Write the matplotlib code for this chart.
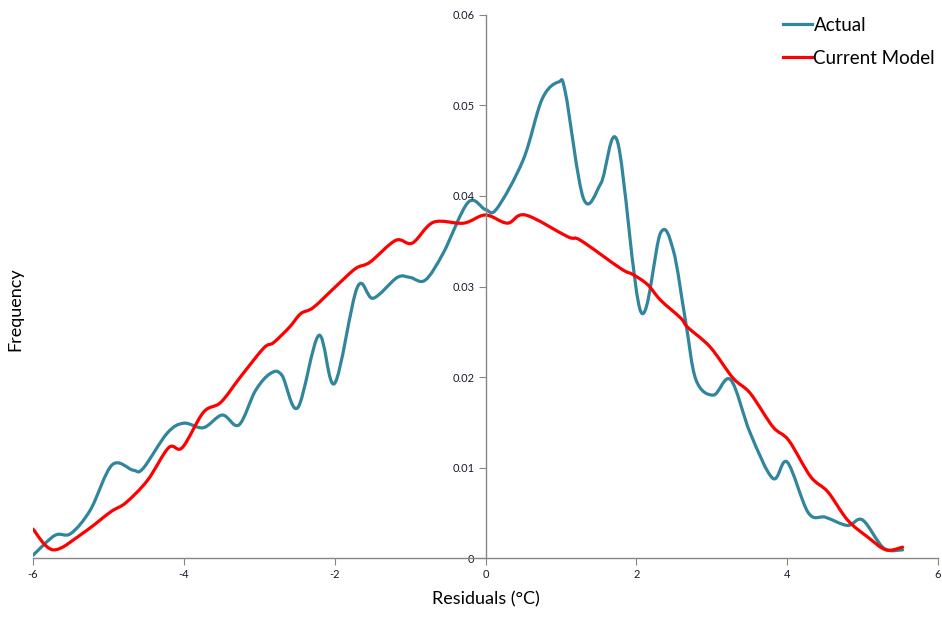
import matplotlib
matplotlib.use("Agg")
import matplotlib.pyplot as plt
from matplotlib.path import Path
from matplotlib.patches import PathPatch
from matplotlib.lines import Line2D

plt.rcParams['font.family'] = ['Lato', 'DejaVu Sans']
plt.rcParams['axes.unicode_minus'] = False

# Residual distributions
actual_x = [-6.0, -5.71, -5.5, -5.24, -4.95, -4.67, -4.54, -4.22, -4.0, -3.74, -3.49, -3.27,
            -3.05, -2.85, -2.7, -2.49, -2.21, -2.0, -1.7, -1.49, -1.17, -1.0, -0.8, -0.56,
            -0.23, 0.0, 0.15, 0.5, 0.75, 0.97, 1.06, 1.3, 1.53, 1.75,
            2.06, 2.32, 2.49, 2.65, 2.79, 3.02, 3.25, 3.51, 3.81, 4.0, 4.28, 4.51, 4.8,
            5.0, 5.28, 5.53]
actual_y = [0.0003, 0.0025, 0.0027, 0.0053, 0.0103, 0.0097, 0.0099, 0.0138, 0.0149, 0.0144,
            0.0158, 0.0147, 0.0185, 0.0204, 0.0202, 0.0166, 0.0246, 0.0193, 0.0299, 0.0287,
            0.0310, 0.0310, 0.0307, 0.0337, 0.0393, 0.0385, 0.0386, 0.0440, 0.0507,
            0.0526, 0.0514, 0.0397, 0.0414, 0.0460, 0.0272, 0.0359, 0.0340,
            0.0263, 0.0197, 0.0180, 0.0197, 0.0138, 0.0088, 0.0106, 0.0050, 0.0045, 0.0036,
            0.0042, 0.0011, 0.0009]

model_x = [-6.0, -5.73, -5.33, -4.97, -4.77, -4.48, -4.2, -4.02, -3.74, -3.51, -3.25, -2.94,
           -2.81, -2.6, -2.45, -2.28, -1.96, -1.72, -1.53, -1.19, -0.97, -0.69, -0.29, 0.0,
           0.29, 0.53, 1.09, 1.26, 1.79, 1.96, 2.15, 2.32, 2.59, 2.68, 2.98, 3.28, 3.51,
           3.81, 4.02, 4.31, 4.54, 4.8, 5.07, 5.31, 5.53]
model_y = [0.0032, 0.0009, 0.0028, 0.0051, 0.0061, 0.0086, 0.0122, 0.0122, 0.0161, 0.0172,
           0.0200, 0.0232, 0.0238, 0.0255, 0.0270, 0.0277, 0.0302, 0.0320, 0.0327, 0.0351,
           0.0348, 0.0371, 0.0370, 0.0379, 0.0370, 0.0379, 0.0355, 0.0351, 0.0320, 0.0313,
           0.0302, 0.0285, 0.0265, 0.0255, 0.0233, 0.0199, 0.0182, 0.0145, 0.0130, 0.0090,
           0.0073, 0.0042, 0.0023, 0.0009, 0.0012]

x_ticks = [-6, -4, -2, 0, 2, 4, 6]
y_ticks = [0, 0.01, 0.02, 0.03, 0.04, 0.05, 0.06]
y_labels = ['0', '0.01', '0.02', '0.03', '0.04', '0.05', '0.06']

teal = '#31859C'
red = '#FF0000'


def smooth_path(xs, ys):
    # excel style smoothed line: bezier segments through every point
    pts = list(zip(xs, ys))
    verts = [pts[0]]
    codes = [Path.MOVETO]
    n = len(pts)
    for i in range(n - 1):
        p0 = pts[i - 1] if i > 0 else pts[i]
        p1 = pts[i]
        p2 = pts[i + 1]
        p3 = pts[i + 2] if i + 2 < n else pts[i + 1]
        c1 = (p1[0] + (p2[0] - p0[0]) / 6, p1[1] + (p2[1] - p0[1]) / 6)
        c2 = (p2[0] - (p3[0] - p1[0]) / 6, p2[1] - (p3[1] - p1[1]) / 6)
        verts += [c1, c2, p2]
        codes += [Path.CURVE4] * 3
    return Path(verts, codes)


fig = plt.figure(figsize=(9.42, 6.19), dpi=100)
ax = fig.add_axes([0.035, 0.0985, 0.9608, 0.8773])

ax.add_patch(PathPatch(smooth_path(actual_x, actual_y), facecolor='none', edgecolor=teal,
                       lw=2.3, joinstyle='round', capstyle='round'))
ax.add_patch(PathPatch(smooth_path(model_x, model_y), facecolor='none', edgecolor=red,
                       lw=2.3, joinstyle='round', capstyle='round'))

ax.set_xlim(-6, 6)
ax.set_ylim(0, 0.06)

# y axis crosses at zero like the excel chart
ax.spines['left'].set_position(('data', 0))
ax.spines['right'].set_visible(False)
ax.spines['top'].set_visible(False)
for s in ['left', 'bottom']:
    ax.spines[s].set_color('#868686')
    ax.spines[s].set_linewidth(1.0)

ax.set_xticks(x_ticks)
ax.set_xticklabels([str(t) for t in x_ticks])
ax.set_yticks(y_ticks)
ax.set_yticklabels(y_labels)
ax.tick_params(axis='both', direction='out', length=5, color='#868686',
               labelsize=8, labelcolor='#1a1a2e', pad=3)

ax.set_xlabel('Residuals (°C)', fontsize=13, labelpad=8)
fig.text(0.016, 0.5, 'Frequency', rotation=90, fontsize=13, ha='center', va='center')

handles = [Line2D([], [], color=teal, lw=2.3), Line2D([], [], color=red, lw=2.3)]
ax.legend(handles, ['Actual', 'Current Model'], loc='upper right', frameon=False,
          fontsize=13.5, handlelength=1.5, handletextpad=0.1, labelspacing=0.85,
          borderaxespad=0.0, bbox_to_anchor=(1.005, 1.01))

fig.savefig('out.png', dpi=100)
